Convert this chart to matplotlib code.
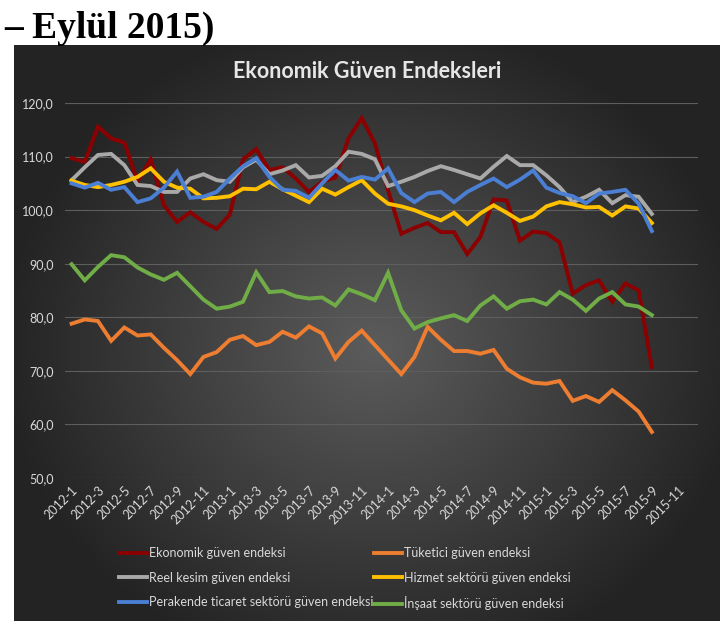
import numpy as np
import matplotlib
matplotlib.use("Agg")
import matplotlib.pyplot as plt

# Aylar: 2012-1 ... 2015-12 (veri 2015-9'a kadar)
aylar = [f"{y}-{m}" for y in range(2012, 2016) for m in range(1, 13)]

ekonomik = [109.7, 109.0, 115.6, 113.4, 112.6, 105.4, 109.5, 100.9, 97.8, 99.6,
            97.8, 96.5, 99.2, 109.5, 111.4, 107.5, 108.0, 105.9, 103.4, 105.3,
            106.1, 113.4, 117.2, 112.5, 103.7, 95.6, 96.7, 97.6, 95.9, 95.9,
            91.8, 95.0, 102.0, 101.8, 94.3, 96.0, 95.7, 94.0, 84.4, 86.0,
            86.9, 82.9, 86.3, 85.0, 70.7]
tuketici = [78.8, 79.6, 79.3, 75.6, 78.1, 76.6, 76.8, 74.3, 72.0, 69.4,
            72.6, 73.5, 75.8, 76.5, 74.8, 75.4, 77.3, 76.2, 78.3, 77.0,
            72.3, 75.4, 77.5, 74.8, 72.1, 69.4, 72.6, 78.2, 75.8, 73.7,
            73.7, 73.2, 73.9, 70.4, 68.8, 67.8, 67.6, 68.1, 64.4, 65.3,
            64.2, 66.4, 64.5, 62.4, 58.6]
reel = [105.6, 108.0, 110.3, 110.5, 108.4, 104.7, 104.5, 103.4, 103.4, 105.9,
        106.7, 105.6, 105.3, 108.0, 109.4, 106.7, 107.4, 108.4, 106.1, 106.4,
        108.2, 110.9, 110.5, 109.5, 104.5, 105.3, 106.2, 107.3, 108.2, 107.5,
        106.7, 105.9, 108.1, 110.1, 108.4, 108.4, 106.5, 104.3, 101.5, 102.5,
        103.8, 101.3, 102.8, 102.5, 99.3]
hizmet = [105.5, 104.7, 104.3, 104.7, 105.3, 106.2, 107.8, 105.3, 104.2, 104.0,
          102.2, 102.3, 102.6, 104.0, 103.9, 105.3, 103.9, 102.7, 101.5, 104.0,
          102.9, 104.3, 105.6, 103.1, 101.2, 100.7, 100.0, 99.0, 98.1, 99.5,
          97.4, 99.4, 100.9, 99.5, 98.0, 98.8, 100.7, 101.5, 101.1, 100.5,
          100.6, 99.0, 100.7, 100.3, 97.6]
perakende = [105.0, 104.2, 105.1, 103.8, 104.3, 101.5, 102.2, 104.2, 107.2, 102.3,
             102.5, 103.4, 105.9, 108.2, 109.7, 106.2, 103.8, 103.6, 102.3, 105.0,
             107.5, 105.5, 106.2, 105.7, 107.8, 103.2, 101.5, 103.1, 103.4, 101.5,
             103.4, 104.7, 105.9, 104.3, 105.7, 107.4, 104.2, 103.2, 102.6, 101.3,
             103.1, 103.4, 103.8, 101.2, 96.1]
insaat = [89.9, 86.9, 89.4, 91.6, 91.2, 89.3, 88.0, 87.0, 88.3, 85.8,
          83.3, 81.6, 82.0, 82.9, 88.4, 84.7, 84.9, 83.9, 83.5, 83.7,
          82.2, 85.2, 84.3, 83.2, 88.3, 81.3, 77.9, 79.1, 79.8, 80.4,
          79.3, 82.2, 83.9, 81.6, 83.0, 83.3, 82.4, 84.7, 83.3, 81.2,
          83.5, 84.7, 82.4, 82.0, 80.4]

seriler = [
    ("Ekonomik güven endeksi", ekonomik, "#8B0000"),
    ("Reel kesim güven endeksi", reel, "#A9A9A9"),
    ("Perakende ticaret sektörü güven endeksi", perakende, "#4A7FD4"),
    ("Tüketici güven endeksi", tuketici, "#ED7D31"),
    ("Hizmet sektörü güven endeksi", hizmet, "#FFC000"),
    ("İnşaat sektörü güven endeksi", insaat, "#70AD47"),
]
cizim_sirasi = [0, 3, 1, 4, 2, 5]

plt.rcParams['font.family'] = ['Lato', 'DejaVu Sans']

fig = plt.figure(figsize=(7.2, 6.21), dpi=100)
W, H = 720, 621

# Koyu arka plan (radyal gradyan)
bg = fig.add_axes([14 / W, 0, 1 - 14 / W, 1 - 45 / H])
gy, gx = np.mgrid[-1:1:300j, -1:1:300j]
r = np.sqrt(((gx - 0.02) / 1.0) ** 2 + ((gy - 0.05) / 1.1) ** 2)
shade = np.clip(0.36 - 0.21 * r, 0.14, 0.36)
bg.imshow(np.dstack([shade] * 3), aspect='auto', extent=[0, 1, 0, 1])
bg.set_axis_off()

fig.text(4 / W, 1 - 38 / H, "– Eylül 2015)", family='Liberation Serif',
         fontweight='bold', fontsize=27, color='black')

ax = fig.add_axes([65 / W, 1 - 478 / H, 633 / W, 375 / H])
ax.patch.set_alpha(0)
x = np.arange(len(ekonomik))
lines = {}
for i in cizim_sirasi:
    ad, veri, renk = seriler[i]
    lines[i], = ax.plot(x, veri, color=renk, lw=2.8, solid_joinstyle='miter', label=ad)

ax.set_xlim(-0.5, len(aylar) - 0.5)
ax.set_ylim(50, 120)
ax.set_yticks(np.arange(50, 121, 10))
ax.set_yticklabels([f"{v},0" for v in range(50, 121, 10)])
ax.set_xticks(np.arange(0, len(aylar), 2))
ax.set_xticklabels(aylar[::2], rotation=45, ha='right', va='top', rotation_mode='anchor')
ax.tick_params(length=0, colors='#D9D9D9', labelsize=9)
ax.tick_params(axis='y', pad=8)
ax.tick_params(axis='x', pad=4)
ax.grid(axis='y', color='#5E5E5E', lw=0.8)
ax.set_axisbelow(True)
for s in ax.spines.values():
    s.set_visible(False)

fig.text(367 / W, 1 - 72 / H, "Ekonomik Güven Endeksleri", ha='center', va='center',
         fontsize=15.5, fontweight='bold', color='#E6E6E6')

leg = fig.legend([lines[i] for i in range(6)], [seriler[i][0] for i in range(6)],
                 ncol=2, loc='upper left', bbox_to_anchor=(108 / W, 1 - 536 / H),
                 frameon=False, fontsize=9, labelcolor='#D9D9D9',
                 handlelength=2.2, handletextpad=0.15, columnspacing=0.1,
                 labelspacing=1.0)

fig.savefig("out.png", dpi=100)
